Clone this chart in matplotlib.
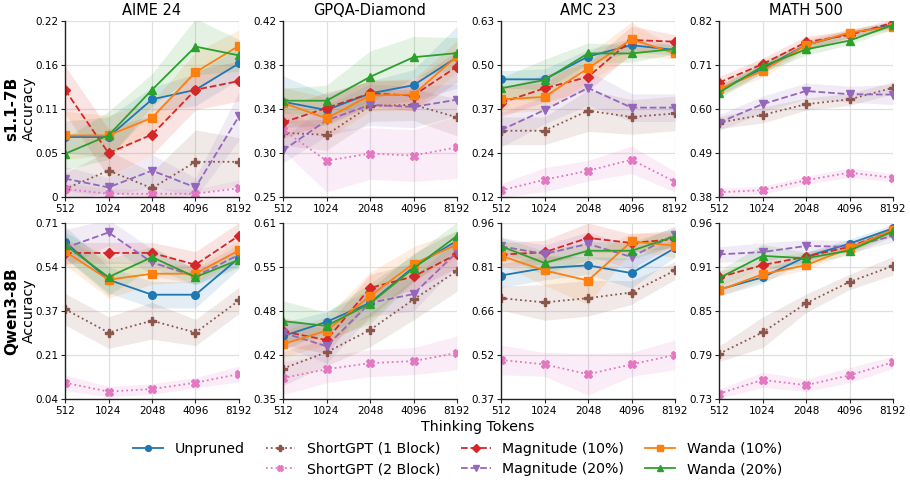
import numpy as np
import matplotlib
matplotlib.use("Agg")
import matplotlib.pyplot as plt
from matplotlib.lines import Line2D

TOKENS = [512, 1024, 2048, 4096, 8192]
TOKEN_LABELS = ["512", "1024", "2048", "4096", "8192"]

METHODS = [
    "Unpruned",
    "ShortGPT (1 Block)",
    "ShortGPT (2 Block)",
    "Magnitude (10%)",
    "Magnitude (20%)",
    "Wanda (10%)",
    "Wanda (20%)",
]
COLORS = ["#1f77b4", "#8c564b", "#e377c2", "#d62728", "#9467bd", "#ff7f0e", "#2ca02c"]
MARKERS = ["o", "P", "X", "D", "v", "s", "^"]
LINESTYLES = ["-", ":", ":", "--", "--", "-", "-"]

BENCHMARKS = ["AIME 24", "GPQA-Diamond", "AMC 23", "MATH 500"]
MODELS = ["s1.1-7B", "Qwen3-8B"]

# ---- s1.1-7B: mean accuracy (order of METHODS) ----
s1_aime = [
    [0.075, 0.075, 0.122, 0.134, 0.167],
    [0.010, 0.033, 0.011, 0.044, 0.044],
    [0.010, 0.004, 0.004, 0.004, 0.011],
    [0.134, 0.055, 0.078, 0.134, 0.145],
    [0.023, 0.012, 0.033, 0.012, 0.101],
    [0.077, 0.077, 0.099, 0.156, 0.189],
    [0.054, 0.077, 0.134, 0.188, 0.177],
]
s1_gpqa = [
    [0.342, 0.334, 0.350, 0.358, 0.385],
    [0.312, 0.310, 0.338, 0.339, 0.327],
    [0.315, 0.285, 0.292, 0.290, 0.298],
    [0.322, 0.336, 0.350, 0.348, 0.376],
    [0.295, 0.324, 0.339, 0.337, 0.344],
    [0.341, 0.326, 0.348, 0.349, 0.386],
    [0.343, 0.343, 0.366, 0.385, 0.389],
]
s1_amc = [
    [0.461, 0.461, 0.527, 0.560, 0.546],
    [0.312, 0.312, 0.370, 0.352, 0.362],
    [0.139, 0.170, 0.196, 0.228, 0.164],
    [0.393, 0.435, 0.468, 0.575, 0.570],
    [0.314, 0.372, 0.436, 0.379, 0.379],
    [0.403, 0.410, 0.493, 0.577, 0.536],
    [0.435, 0.459, 0.536, 0.536, 0.549],
]
s1_math = [
    [0.647, 0.701, 0.760, 0.789, 0.810],
    [0.566, 0.585, 0.612, 0.624, 0.653],
    [0.392, 0.397, 0.422, 0.441, 0.428],
    [0.666, 0.712, 0.767, 0.785, 0.816],
    [0.566, 0.612, 0.645, 0.637, 0.636],
    [0.649, 0.695, 0.760, 0.791, 0.806],
    [0.641, 0.707, 0.749, 0.771, 0.810],
]

# ---- Qwen3-8B: mean accuracy ----
qw_aime = [
    [0.638, 0.494, 0.437, 0.437, 0.577],
    [0.382, 0.293, 0.338, 0.293, 0.415],
    [0.102, 0.068, 0.078, 0.102, 0.135],
    [0.596, 0.596, 0.596, 0.551, 0.662],
    [0.615, 0.674, 0.560, 0.507, 0.589],
    [0.602, 0.494, 0.517, 0.517, 0.606],
    [0.627, 0.504, 0.580, 0.504, 0.570],
]
qw_gpqa = [
    [0.443, 0.464, 0.492, 0.545, 0.584],
    [0.395, 0.419, 0.452, 0.497, 0.539],
    [0.381, 0.394, 0.403, 0.406, 0.418],
    [0.450, 0.437, 0.514, 0.531, 0.564],
    [0.448, 0.428, 0.492, 0.505, 0.567],
    [0.431, 0.451, 0.502, 0.550, 0.578],
    [0.465, 0.458, 0.491, 0.543, 0.591],
]
qw_amc = [
    [0.784, 0.809, 0.818, 0.792, 0.876],
    [0.708, 0.694, 0.708, 0.727, 0.801],
    [0.501, 0.486, 0.453, 0.486, 0.518],
    [0.854, 0.862, 0.910, 0.893, 0.906],
    [0.882, 0.856, 0.890, 0.846, 0.921],
    [0.850, 0.801, 0.767, 0.898, 0.884],
    [0.882, 0.826, 0.867, 0.867, 0.915],
]
qw_math = [
    [0.873, 0.889, 0.916, 0.933, 0.953],
    [0.789, 0.817, 0.855, 0.883, 0.904],
    [0.737, 0.755, 0.748, 0.761, 0.778],
    [0.889, 0.905, 0.916, 0.929, 0.950],
    [0.919, 0.922, 0.930, 0.929, 0.943],
    [0.872, 0.893, 0.905, 0.927, 0.951],
    [0.888, 0.917, 0.914, 0.924, 0.949],
]

# ---- standard deviation (shaded bands) ----
s1_aime_sd = [
    [0.020, 0.025, 0.015, 0.020, 0.020],
    [0.020, 0.025, 0.020, 0.040, 0.030],
    [0.008, 0.006, 0.006, 0.006, 0.010],
    [0.030, 0.030, 0.025, 0.025, 0.025],
    [0.015, 0.012, 0.020, 0.012, 0.030],
    [0.030, 0.025, 0.020, 0.025, 0.020],
    [0.020, 0.030, 0.020, 0.035, 0.020],
]
s1_gpqa_sd = [
    [0.025, 0.015, 0.012, 0.015, 0.030],
    [0.012, 0.015, 0.015, 0.015, 0.018],
    [0.020, 0.030, 0.025, 0.025, 0.030],
    [0.015, 0.015, 0.012, 0.015, 0.015],
    [0.012, 0.015, 0.020, 0.020, 0.015],
    [0.015, 0.020, 0.015, 0.015, 0.015],
    [0.012, 0.015, 0.025, 0.020, 0.015],
]
s1_amc_sd = [
    [0.025, 0.030, 0.020, 0.020, 0.015],
    [0.040, 0.040, 0.060, 0.050, 0.050],
    [0.020, 0.035, 0.030, 0.040, 0.030],
    [0.040, 0.040, 0.040, 0.040, 0.020],
    [0.050, 0.040, 0.050, 0.040, 0.040],
    [0.040, 0.040, 0.040, 0.050, 0.015],
    [0.030, 0.060, 0.030, 0.025, 0.015],
]
s1_math_sd = [
    [0.012, 0.012, 0.010, 0.010, 0.008],
    [0.015, 0.020, 0.015, 0.015, 0.015],
    [0.010, 0.010, 0.010, 0.012, 0.010],
    [0.015, 0.015, 0.015, 0.010, 0.010],
    [0.020, 0.020, 0.020, 0.020, 0.025],
    [0.015, 0.015, 0.015, 0.010, 0.010],
    [0.015, 0.015, 0.015, 0.010, 0.010],
]
qw_aime_sd = [
    [0.060, 0.050, 0.050, 0.050, 0.040],
    [0.060, 0.060, 0.070, 0.050, 0.050],
    [0.030, 0.020, 0.020, 0.020, 0.030],
    [0.040, 0.040, 0.040, 0.050, 0.050],
    [0.070, 0.050, 0.050, 0.030, 0.040],
    [0.050, 0.070, 0.040, 0.030, 0.040],
    [0.050, 0.070, 0.040, 0.030, 0.030],
]
qw_gpqa_sd = [
    [0.020, 0.015, 0.020, 0.020, 0.015],
    [0.025, 0.020, 0.025, 0.030, 0.030],
    [0.025, 0.020, 0.020, 0.020, 0.025],
    [0.020, 0.020, 0.020, 0.020, 0.020],
    [0.020, 0.025, 0.020, 0.025, 0.020],
    [0.020, 0.020, 0.035, 0.025, 0.020],
    [0.030, 0.020, 0.030, 0.020, 0.020],
]
qw_amc_sd = [
    [0.040, 0.040, 0.030, 0.050, 0.030],
    [0.040, 0.060, 0.060, 0.040, 0.030],
    [0.050, 0.040, 0.070, 0.040, 0.050],
    [0.040, 0.040, 0.050, 0.030, 0.030],
    [0.030, 0.030, 0.040, 0.040, 0.030],
    [0.030, 0.050, 0.080, 0.030, 0.040],
    [0.030, 0.040, 0.030, 0.030, 0.030],
]
qw_math_sd = [
    [0.008, 0.008, 0.006, 0.006, 0.005],
    [0.010, 0.020, 0.012, 0.010, 0.012],
    [0.006, 0.010, 0.008, 0.010, 0.008],
    [0.008, 0.008, 0.006, 0.006, 0.005],
    [0.010, 0.012, 0.008, 0.008, 0.008],
    [0.008, 0.008, 0.006, 0.006, 0.005],
    [0.010, 0.015, 0.008, 0.006, 0.006],
]

# y limits and tick labels per panel
s1_ylims = [(0.0, 0.22), (0.25, 0.42), (0.12, 0.63), (0.38, 0.82)]
qw_ylims = [(0.04, 0.71), (0.35, 0.61), (0.37, 0.96), (0.73, 0.96)]
s1_yticklabels = [
    ["0", "0.05", "0.11", "0.16", "0.22"],
    ["0.25", "0.30", "0.34", "0.38", "0.42"],
    ["0.12", "0.24", "0.37", "0.50", "0.63"],
    ["0.38", "0.49", "0.60", "0.71", "0.82"],
]
qw_yticklabels = [
    ["0.04", "0.21", "0.37", "0.54", "0.71"],
    ["0.35", "0.42", "0.48", "0.55", "0.61"],
    ["0.37", "0.52", "0.66", "0.81", "0.96"],
    ["0.73", "0.79", "0.85", "0.91", "0.96"],
]


def draw_panel(ax, means, sds, ylim, yticklabels):
    for i, name in enumerate(METHODS):
        m = np.asarray(means[i])
        s = np.asarray(sds[i])
        ax.fill_between(TOKENS, m - s, m + s, color=COLORS[i], alpha=0.13, lw=0)
        ax.plot(TOKENS, m, color=COLORS[i], marker=MARKERS[i], ls=LINESTYLES[i],
                lw=1.3, ms=5.5, label=name)
    ax.set_xscale("log", base=2)
    ax.set_xlim(TOKENS[0], TOKENS[-1])
    ax.set_xticks(TOKENS, TOKEN_LABELS)
    ax.minorticks_off()
    ax.set_ylim(*ylim)
    ax.set_yticks(np.linspace(ylim[0], ylim[1], 5), yticklabels)
    ax.grid(True, color="#e0e0e0", lw=0.9)
    ax.set_axisbelow(True)
    for side in ("top", "right"):
        ax.spines[side].set_visible(False)
    for side in ("left", "bottom"):
        ax.spines[side].set_color("#222222")
        ax.spines[side].set_linewidth(1.0)
    ax.tick_params(labelsize=7.5, length=3, pad=2, color="#222222")


def main():
    W, H = 910, 483
    fig = plt.figure(figsize=(W / 100, H / 100), dpi=100)

    lefts = [65, 283, 501, 719]
    width = 174
    rows = [(21, 197), (223, 399)]

    data = [
        (s1_aime, s1_gpqa, s1_amc, s1_math),
        (qw_aime, qw_gpqa, qw_amc, qw_math),
    ]
    sds = [
        (s1_aime_sd, s1_gpqa_sd, s1_amc_sd, s1_math_sd),
        (qw_aime_sd, qw_gpqa_sd, qw_amc_sd, qw_math_sd),
    ]
    ylims = [s1_ylims, qw_ylims]
    ylabels = [s1_yticklabels, qw_yticklabels]

    for r, (top, bottom) in enumerate(rows):
        for c, left in enumerate(lefts):
            ax = fig.add_axes([left / W, 1 - bottom / H, width / W, (bottom - top) / H])
            draw_panel(ax, data[r][c], sds[r][c], ylims[r][c], ylabels[r][c])
            if r == 0:
                ax.set_title(BENCHMARKS[c], fontsize=10.5, pad=4)
        yc = 1 - (top + bottom) / 2 / H
        fig.text(12 / W, yc, MODELS[r], rotation=90, ha="center", va="center",
                 fontsize=11, fontweight="bold")
        fig.text(29 / W, yc, "Accuracy", rotation=90, ha="center", va="center",
                 fontsize=10.2)

    fig.text(478 / W, 1 - 427 / H, "Thinking Tokens", ha="center", va="center",
             fontsize=10.2)

    handles = [Line2D([], [], color=COLORS[i], marker=MARKERS[i], ls=LINESTYLES[i],
                      lw=1.3, ms=4.2) for i in range(len(METHODS))]
    blank = Line2D([], [], color="none", lw=0)
    order = [0, None, 1, 2, 3, 4, 5, 6]
    hs = [blank if k is None else handles[k] for k in order]
    ls = ["" if k is None else METHODS[k] for k in order]
    fig.legend(hs, ls, ncol=4, loc="upper center", bbox_to_anchor=(457.5 / W, 1 - 436 / H),
               frameon=False, fontsize=10.2, handlelength=2.1, columnspacing=1.5,
               labelspacing=0.45, handletextpad=0.8, borderaxespad=0)

    fig.savefig("out.png", dpi=100)


if __name__ == "__main__":
    main()
